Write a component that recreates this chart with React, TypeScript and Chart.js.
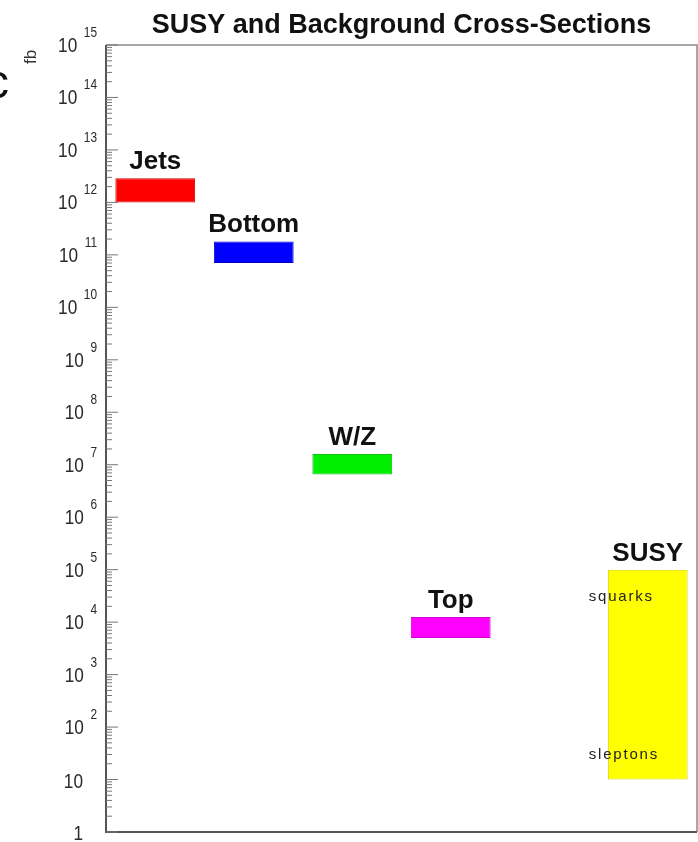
import { useEffect, useRef } from "react";
import { Chart, registerables } from "chart.js";

Chart.register(...registerables);

// Cross-section ranges (fb) per process; the empty slot keeps SUSY apart.
const CHART_TITLE = "SUSY and Background Cross-Sections";
const Y_UNIT = "fb";
const PROCESSES = ["Jets", "Bottom", "W/Z", "Top", "", "SUSY"];
const SIGMA_LOW = [1.0e12, 7.0e10, 6.5e6, 5.0e3, null, 10];
const SIGMA_HIGH = [2.9e12, 1.8e11, 1.6e7, 1.25e4, null, 1.0e5];
const BAR_COLORS = ["#ff0000", "#0000ff", "#00ee00", "#ff00ff", "#ffffff", "#ffff00"];
const BAR_EDGES = ["#d40000", "#0000c8", "#10c010", "#d000d0", "#ffffff", "#d8d800"];

// Labels written inside the SUSY band, at these cross-sections.
const SUSY_NOTES = ["squarks", "sleptons"];
const SUSY_NOTE_SIGMA = [3.0e4, 30];

// Decade exponents labelled on the y axis (1 ... 10^15).
const DECADE_EXPONENTS = [0, 1, 2, 3, 4, 5, 6, 7, 8, 9, 10, 11, 12, 13, 14, 15];
const MINOR_MULTIPLIERS = [2, 3, 4, 5, 6, 7, 8, 9];

const FONT = '"Liberation Sans", Arial, Helvetica, sans-serif';

function squeezedText(
  ctx: CanvasRenderingContext2D,
  text: string,
  x: number,
  y: number,
  align: CanvasTextAlign,
  sx: number
) {
  ctx.save();
  ctx.translate(x, y);
  ctx.scale(sx, 1);
  ctx.textAlign = align;
  ctx.fillText(text, 0, 0);
  ctx.restore();
}

const decorations = {
  id: "decorations",
  afterDatasetsDraw(chart: any) {
    const ctx: CanvasRenderingContext2D = chart.ctx;
    const area = chart.chartArea;
    const y = chart.scales.y;
    const meta = chart.getDatasetMeta(0);

    ctx.save();

    // frame
    ctx.strokeStyle = "#8a8a8a";
    ctx.lineWidth = 1.5;
    ctx.beginPath();
    ctx.moveTo(area.left, area.top);
    ctx.lineTo(area.right, area.top);
    ctx.lineTo(area.right, area.bottom);
    ctx.stroke();
    ctx.strokeStyle = "#555";
    ctx.lineWidth = 2;
    ctx.beginPath();
    ctx.moveTo(area.left, area.top);
    ctx.lineTo(area.left, area.bottom);
    ctx.lineTo(area.right, area.bottom);
    ctx.stroke();

    // inward ticks on the log axis
    ctx.strokeStyle = "#777";
    ctx.lineWidth = 1;
    for (const e of DECADE_EXPONENTS) {
      const base = Math.pow(10, e);
      const py = y.getPixelForValue(base);
      ctx.beginPath();
      ctx.moveTo(area.left, py);
      ctx.lineTo(area.left + 12, py);
      ctx.stroke();
      if (e === DECADE_EXPONENTS[DECADE_EXPONENTS.length - 1]) continue;
      for (const m of MINOR_MULTIPLIERS) {
        const my = y.getPixelForValue(base * m);
        ctx.beginPath();
        ctx.moveTo(area.left, my);
        ctx.lineTo(area.left + 6, my);
        ctx.stroke();
      }
    }

    // tick labels: 10 with a raised exponent
    ctx.fillStyle = "#2a2a2a";
    ctx.textBaseline = "alphabetic";
    const expRight = area.left - 9;
    for (const e of DECADE_EXPONENTS) {
      const py = y.getPixelForValue(Math.pow(10, e));
      if (e <= 1) {
        ctx.font = `21px ${FONT}`;
        squeezedText(ctx, e === 0 ? "1" : "10", expRight - 14, py + 8, "right", 0.82);
        continue;
      }
      const exp = String(e);
      ctx.font = `14px ${FONT}`;
      const expW = ctx.measureText(exp).width * 0.85;
      squeezedText(ctx, exp, expRight, py - 8, "right", 0.85);
      ctx.font = `21px ${FONT}`;
      squeezedText(ctx, "10", expRight - expW - 6.5, py + 7, "right", 0.82);
    }

    // unit label
    ctx.save();
    ctx.translate(36, 57);
    ctx.rotate(-Math.PI / 2);
    ctx.font = `17px ${FONT}`;
    ctx.fillStyle = "#333";
    ctx.textAlign = "center";
    ctx.fillText(Y_UNIT, 0, 0);
    ctx.restore();

    // title
    ctx.fillStyle = "#111";
    ctx.font = `bold 27px ${FONT}`;
    ctx.textAlign = "center";
    ctx.fillText(CHART_TITLE, (area.left + area.right) / 2, 33);

    // process names above each band
    ctx.font = `bold 26px ${FONT}`;
    PROCESSES.forEach((name, i) => {
      const bar = meta.data[i];
      if (!name || !bar || SIGMA_HIGH[i] == null) return;
      ctx.fillText(name, bar.x, bar.y - 9);
    });

    // notes inside the SUSY band
    const susy = meta.data[PROCESSES.indexOf("SUSY")];
    if (susy) {
      ctx.font = `15px ${FONT}`;
      ctx.fillStyle = "#222";
      ctx.textAlign = "left";
      ctx.textBaseline = "middle";
      (ctx as any).letterSpacing = "1.8px";
      SUSY_NOTES.forEach((note, i) => {
        ctx.fillText(note, susy.x - 59, y.getPixelForValue(SUSY_NOTE_SIGMA[i]));
      });
      (ctx as any).letterSpacing = "0px";
    }

    // stray glyph at the left edge
    ctx.fillStyle = "#111";
    ctx.font = `48px ${FONT}`;
    ctx.textAlign = "left";
    ctx.textBaseline = "alphabetic";
    ctx.fillText("c", -15, 98);

    ctx.restore();
  },
};

export default function App() {
  const canvasRef = useRef<HTMLCanvasElement | null>(null);

  useEffect(() => {
    const canvas = canvasRef.current;
    if (!canvas) return;
    const ranges = SIGMA_LOW.map((lo, i) =>
      lo == null || SIGMA_HIGH[i] == null ? null : [lo, SIGMA_HIGH[i] as number]
    );
    const chart = new Chart(canvas, {
      type: "bar",
      data: {
        labels: PROCESSES,
        datasets: [
          {
            data: ranges as any,
            backgroundColor: BAR_COLORS,
            borderColor: BAR_EDGES,
            borderWidth: 1,
            borderSkipped: false,
            barPercentage: 0.81,
            categoryPercentage: 1,
          },
        ],
      },
      options: {
        animation: false,
        responsive: false,
        maintainAspectRatio: false,
        layout: { padding: { left: 106, top: 45, right: 1, bottom: 10 } },
        plugins: {
          legend: { display: false },
          tooltip: { enabled: false },
          title: { display: false },
        },
        scales: {
          x: { type: "category", display: false, offset: true },
          y: { type: "logarithmic", display: false, min: 1, max: 1e15 },
        },
      },
      plugins: [decorations],
    });
    return () => chart.destroy();
  }, []);

  return (
    <div style={{ position: "fixed", left: 0, top: 0, width: 698, height: 842, background: "#fff" }}>
      <canvas ref={canvasRef} width={698} height={842} style={{ display: "block" }} />
    </div>
  );
}
